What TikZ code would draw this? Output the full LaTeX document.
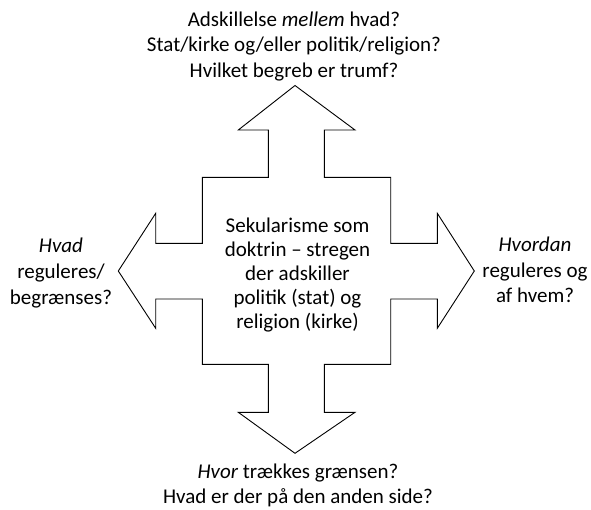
\documentclass[tikz,border=0pt]{standalone}
\usepackage{fontspec}
\setmainfont{Carlito}
\begin{document}
\begin{tikzpicture}[x=1pt,y=-1pt,
  lbl/.style={align=center,inner sep=0pt,font=\fontsize{21}{25.6}\selectfont,text=black},
  ctr/.style={align=center,inner sep=0pt,font=\fontsize{21}{24.2}\selectfont,text=black},
  cross/.style={draw=black,line width=0.9pt,line join=miter}]
\useasboundingbox (0,0) rectangle (591,509);
% cross-shaped four-way arrow
\draw[cross] (295,85.5) -- (355,130) -- (324.3,130) -- (324.3,177.3) -- (390.7,177.3)
  -- (390.7,243.3) -- (437.3,243.3) -- (437.3,213.3) -- (474.3,271) -- (437.3,328.3)
  -- (437.3,299) -- (390.7,299) -- (390.7,364.3) -- (324.3,364.3) -- (324.3,412.3)
  -- (355,412.3) -- (295,453.3) -- (238.3,412.3) -- (268.3,412.3) -- (268.3,364.3)
  -- (202.3,364.3) -- (202.3,299) -- (155.7,299) -- (155.7,328.3) -- (118.3,271)
  -- (155.7,213.3) -- (155.7,243.3) -- (202.3,243.3) -- (202.3,177.3) -- (268.3,177.3)
  -- (268.3,130) -- (238.3,130) -- cycle;
\node[ctr] (center) at (297.5,275) {Sekularisme som\\doktrin -- stregen\\der adskiller\\politik (stat) og\\religion (kirke)};
\node[lbl] (top) at (294,46.5) {Adskillelse \textit{mellem} hvad?\\Stat/kirke og/eller politik/religion?\\Hvilket begreb er trumf?};
\node[lbl] (bottom) at (298,485.5) {\textit{Hvor} trækkes grænsen?\\Hvad er der på den anden side?};
\node[lbl] (left) at (61,273) {\textit{Hvad}\\reguleres/\\begrænses?};
\node[lbl] (right) at (535,270) {\textit{Hvordan}\\reguleres og\\af hvem?};
\end{tikzpicture}
\end{document}
